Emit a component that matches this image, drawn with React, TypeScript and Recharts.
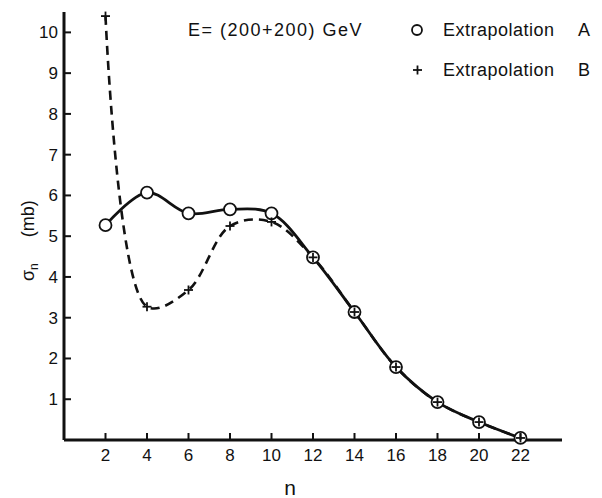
import { Line, LineChart, XAxis, YAxis } from "recharts";

const nValues = [2, 4, 6, 8, 10, 12, 14, 16, 18, 20, 22];
const extrapA = [5.27, 6.07, 5.56, 5.66, 5.56, 4.48, 3.14, 1.79, 0.93, 0.44, 0.05];
const extrapB = [10.4, 3.27, 3.68, 5.25, 5.35, 4.48, 3.14, 1.79, 0.93, 0.44, 0.05];
const xTicks = [2, 4, 6, 8, 10, 12, 14, 16, 18, 20, 22];
const yTicks = [1, 2, 3, 4, 5, 6, 7, 8, 9, 10];

const data = nValues.map((n, i) => ({ n, a: extrapA[i], b: extrapB[i] }));

const FONT = "'Liberation Sans', Arial, sans-serif";
const INK = "#111";

// centripetal Catmull-Rom, hand drawn curves in the original look like this
class CatmullRom {
  ctx: any;
  alpha: number;
  _line: number = NaN;
  _point = 0;
  x0 = NaN; x1 = NaN; x2 = NaN; y0 = NaN; y1 = NaN; y2 = NaN;
  l01a = 0; l12a = 0; l23a = 0; l01b = 0; l12b = 0; l23b = 0;
  constructor(ctx: any, alpha: number) {
    this.ctx = ctx;
    this.alpha = alpha;
  }
  areaStart() { this._line = 0; }
  areaEnd() { this._line = NaN; }
  lineStart() {
    this.x0 = this.x1 = this.x2 = this.y0 = this.y1 = this.y2 = NaN;
    this.l01a = this.l12a = this.l23a = this.l01b = this.l12b = this.l23b = 0;
    this._point = 0;
  }
  lineEnd() {
    if (this._point === 2) this.ctx.lineTo(this.x2, this.y2);
    else if (this._point === 3) this.point(this.x2, this.y2);
    if (this._line || (this._line !== 0 && this._point === 1)) this.ctx.closePath();
    this._line = 1 - this._line;
  }
  seg(x: number, y: number) {
    let cx1 = this.x1, cy1 = this.y1, cx2 = this.x2, cy2 = this.y2;
    if (this.l01a > 1e-12) {
      const a = 2 * this.l01b + 3 * this.l01a * this.l12a + this.l12b;
      const n = 3 * this.l01a * (this.l01a + this.l12a);
      cx1 = (cx1 * a - this.x0 * this.l12b + this.x2 * this.l01b) / n;
      cy1 = (cy1 * a - this.y0 * this.l12b + this.y2 * this.l01b) / n;
    }
    if (this.l23a > 1e-12) {
      const b = 2 * this.l23b + 3 * this.l23a * this.l12a + this.l12b;
      const m = 3 * this.l23a * (this.l23a + this.l12a);
      cx2 = (cx2 * b + this.x1 * this.l23b - x * this.l12b) / m;
      cy2 = (cy2 * b + this.y1 * this.l23b - y * this.l12b) / m;
    }
    this.ctx.bezierCurveTo(cx1, cy1, cx2, cy2, this.x2, this.y2);
  }
  point(x: number, y: number) {
    x = +x;
    y = +y;
    if (this._point) {
      const dx = this.x2 - x, dy = this.y2 - y;
      this.l23b = Math.pow(dx * dx + dy * dy, this.alpha);
      this.l23a = Math.sqrt(this.l23b);
    }
    if (this._point === 0) {
      this._point = 1;
      this._line ? this.ctx.lineTo(x, y) : this.ctx.moveTo(x, y);
    } else if (this._point === 1) {
      this._point = 2;
    } else {
      this._point = 3;
      this.seg(x, y);
    }
    this.l01a = this.l12a; this.l12a = this.l23a;
    this.l01b = this.l12b; this.l12b = this.l23b;
    this.x0 = this.x1; this.x1 = this.x2; this.x2 = x;
    this.y0 = this.y1; this.y1 = this.y2; this.y2 = y;
  }
}

const smooth = (ctx: any) => new CatmullRom(ctx, 0.5);

const CircleDot = (p: any) => {
  if (p.cx == null || p.cy == null) return null;
  return <circle key={p.key} cx={p.cx} cy={p.cy} r={6} fill="#fff" stroke={INK} strokeWidth={1.8} />;
};

const PlusDot = (p: any) => {
  if (p.cx == null || p.cy == null) return null;
  const s = 4.5;
  return (
    <g key={p.key} stroke={INK} strokeWidth={1.8}>
      <line x1={p.cx - s} y1={p.cy} x2={p.cx + s} y2={p.cy} />
      <line x1={p.cx} y1={p.cy - s} x2={p.cx} y2={p.cy + s} />
    </g>
  );
};

const YTick = (p: any) => (
  <g>
    <line x1={p.x} y1={p.y} x2={p.x + 7} y2={p.y} stroke={INK} strokeWidth={2} />
    <text x={p.x - 6} y={p.y + 6} textAnchor="end" fontSize={17} fontFamily={FONT} fill={INK}>
      {p.payload.value}
    </text>
  </g>
);

const XTick = (p: any) => (
  <g>
    <line x1={p.x} y1={p.y} x2={p.x} y2={p.y - 7} stroke={INK} strokeWidth={2} />
    <text x={p.x} y={p.y + 21} textAnchor="middle" fontSize={17} fontFamily={FONT} fill={INK}>
      {p.payload.value}
    </text>
  </g>
);

export default function App() {
  return (
    <div style={{ position: "absolute", left: 0, top: 0, width: 602, height: 498, background: "#fff" }}>
      <LineChart
        width={602}
        height={498}
        data={data}
        margin={{ top: 12, right: 40, left: 24, bottom: 28 }}
      >
        <XAxis
          dataKey="n"
          type="number"
          domain={[0, 24]}
          ticks={xTicks}
          tickSize={0}
          tickMargin={0}
          tickLine={false}
          axisLine={{ stroke: INK, strokeWidth: 3 }}
          tick={<XTick />}
          height={30}
        />
        <YAxis
          type="number"
          domain={[0, 10.5]}
          ticks={yTicks}
          tickSize={0}
          tickMargin={0}
          tickLine={false}
          axisLine={{ stroke: INK, strokeWidth: 3 }}
          tick={<YTick />}
          width={40}
        />
        <Line
          type={smooth as any}
          dataKey="a"
          stroke={INK}
          strokeWidth={2.8}
          dot={<CircleDot />}
          activeDot={false}
          isAnimationActive={false}
        />
        <Line
          type={smooth as any}
          dataKey="b"
          stroke={INK}
          strokeWidth={2.6}
          strokeDasharray="9 6"
          dot={<PlusDot />}
          activeDot={false}
          isAnimationActive={false}
        />
      </LineChart>
      <svg
        width={602}
        height={498}
        style={{ position: "absolute", left: 0, top: 0, pointerEvents: "none" }}
        fontFamily={FONT}
        fill={INK}
      >
        <text x={188} y={36} fontSize={18} letterSpacing={1.5}>E= (200+200) GeV</text>
        <circle cx={417} cy={30} r={5} fill="none" stroke={INK} strokeWidth={1.8} />
        <text x={443} y={36} fontSize={18} letterSpacing={0.5}>Extrapolation</text>
        <text x={578} y={36} fontSize={18}>A</text>
        <g stroke={INK} strokeWidth={1.8}>
          <line x1={413} y1={70} x2={422} y2={70} />
          <line x1={417.5} y1={65.5} x2={417.5} y2={74.5} />
        </g>
        <text x={443} y={76} fontSize={18} letterSpacing={0.5}>Extrapolation</text>
        <text x={578} y={76} fontSize={18}>B</text>
        <text x={290} y={495} fontSize={21} textAnchor="middle">n</text>
        <text transform="translate(34,281) rotate(-90)" fontSize={18}>
          σ<tspan fontSize={12} dy={4}>n</tspan>
          <tspan dy={-4} dx={26}>(mb)</tspan>
        </text>
      </svg>
    </div>
  );
}
